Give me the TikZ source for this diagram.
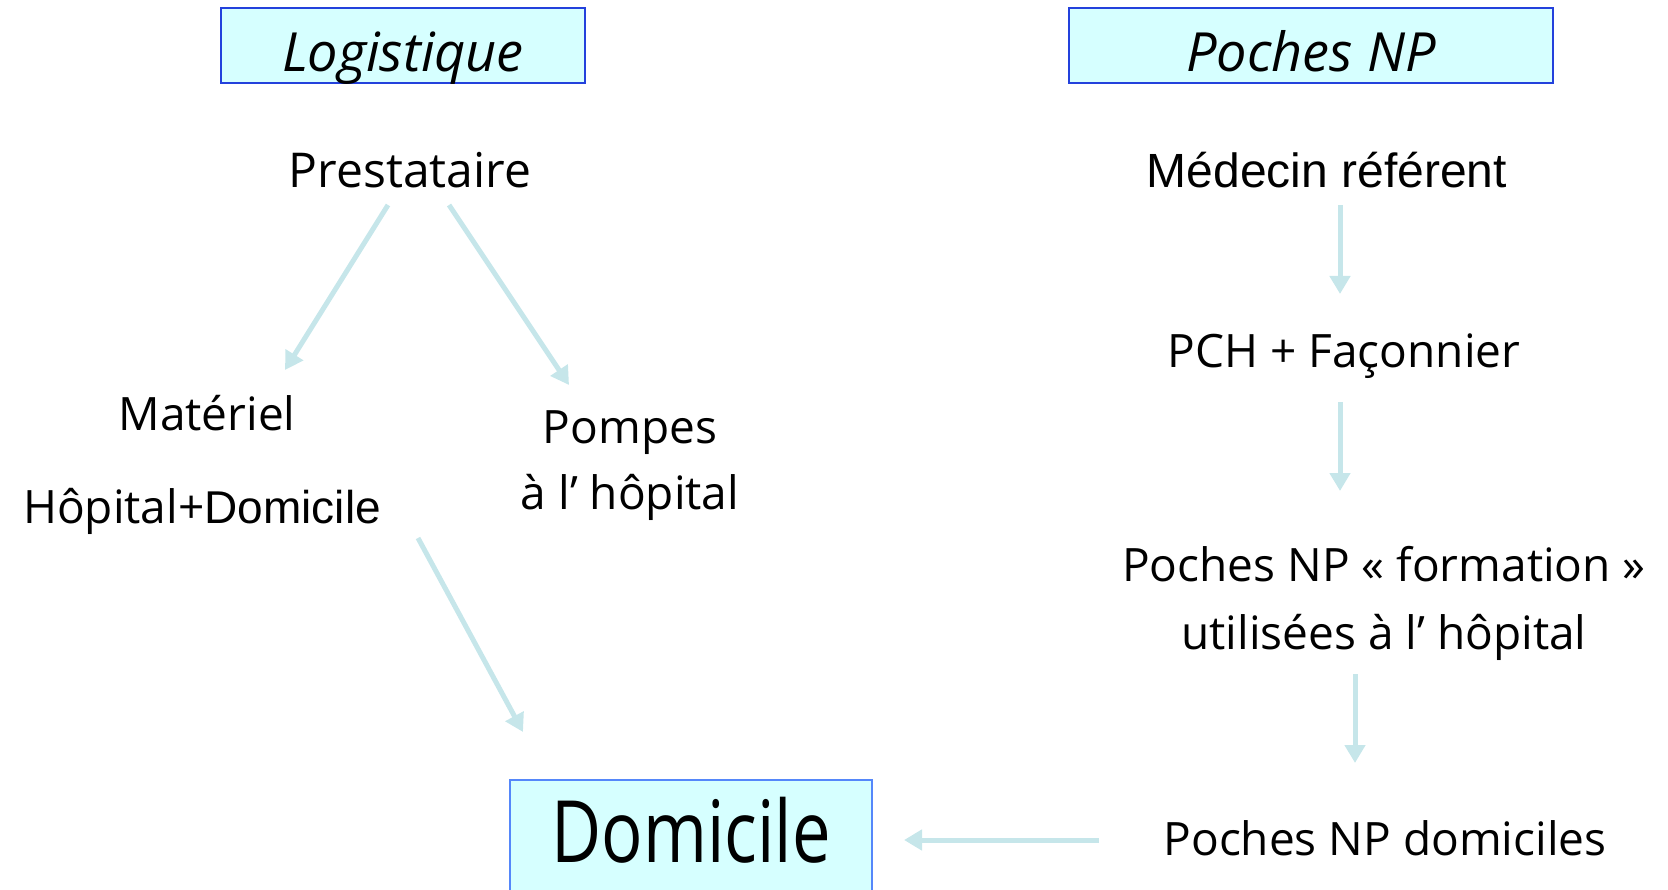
\documentclass[tikz,border=0pt]{standalone}
\usepackage{fontspec}
\setmainfont{Open Sans}
\newfontfamily\arialfont{Liberation Sans}
\newfontfamily\domfont[FakeStretch=0.8]{Open Sans}
\usetikzlibrary{arrows.meta,calc}
\definecolor{boxfill}{RGB}{214,255,255}
\definecolor{boxline}{RGB}{35,65,220}
\definecolor{domline}{RGB}{85,135,250}
\definecolor{flowcol}{RGB}{198,230,234}
\tikzset{
  titre/.style={draw=boxline, line width=2pt, fill=boxfill, minimum height=75pt,
    text height=58pt, text depth=6pt, font=\fontsize{54}{60}\selectfont\itshape},
  texte/.style={font=\fontsize{46}{66}\selectfont, align=center},
  flux/.style={draw=flowcol, line width=5pt, -{Triangle[width=20pt,length=18pt]}}
}
\begin{document}
\begin{tikzpicture}[x=1pt,y=-1pt]
            \useasboundingbox (0,0) rectangle (1668,890);
            % Colonne de gauche - Logistique
            \node at (403,46) (logi) [titre, minimum width=364pt] {Logistique};
            \node at (410,170) (pres) [texte, font=\fontsize{48}{56}\selectfont] {Prestataire};
            \node at (207,413) (mat) [texte] {Matériel};
            \node at (202,511) (hopdom) [texte] {Hôpital+{\arialfont Domicile}};
            \node at (630,466) (pomp) [texte] {Pompes\\à l’ hôpital};
            % Colonne de droite - Poches NP
            \node at (1311,46) (poches) [titre, minimum width=484pt] {Poches NP};
            \node at (1327,170) (med) [texte, font=\fontsize{48}{56}\arialfont] {Médecin référent};
            \node at (1344,356) (pch) [texte] {PCH + Façonnier};
            \node at (1384,603) (form) [texte, font=\fontsize{46}{68}\selectfont] {Poches NP « formation »\\utilisées à l’ hôpital};
            \node at (1385,838) (npdom) [texte] {Poches NP domiciles};
            % Domicile
            \node at (691,840) (dom) [draw=domline, line width=2pt, fill=boxfill, minimum width=362pt,
              minimum height=120pt, text height=60pt, text depth=16pt,
              font=\fontsize{86}{96}\domfont] {Domicile};
            \draw[flux] ($(pres)+(-22,35)$) -- ($(mat)+(78,-43)$);
            \draw[flux] ($(pres)+(39,35)$) -- ($(pomp)+(-61,-81)$);
            \draw[flux] ($(hopdom)+(216,27)$) -- ($(dom)+(-168,-108)$);
            \draw[flux] ($(med)+(13,35)$) -- ($(pch)+(-4,-62)$);
            \draw[flux] ($(pch)+(-4,46)$) -- ($(form)+(-44,-112)$);
            \draw[flux] ($(form)+(-29,71)$) -- ($(npdom)+(-30,-75)$);
            \draw[flux] ($(npdom)+(-286,2)$) -- ($(dom)+(213,0)$);
        \end{tikzpicture}
\end{document}
